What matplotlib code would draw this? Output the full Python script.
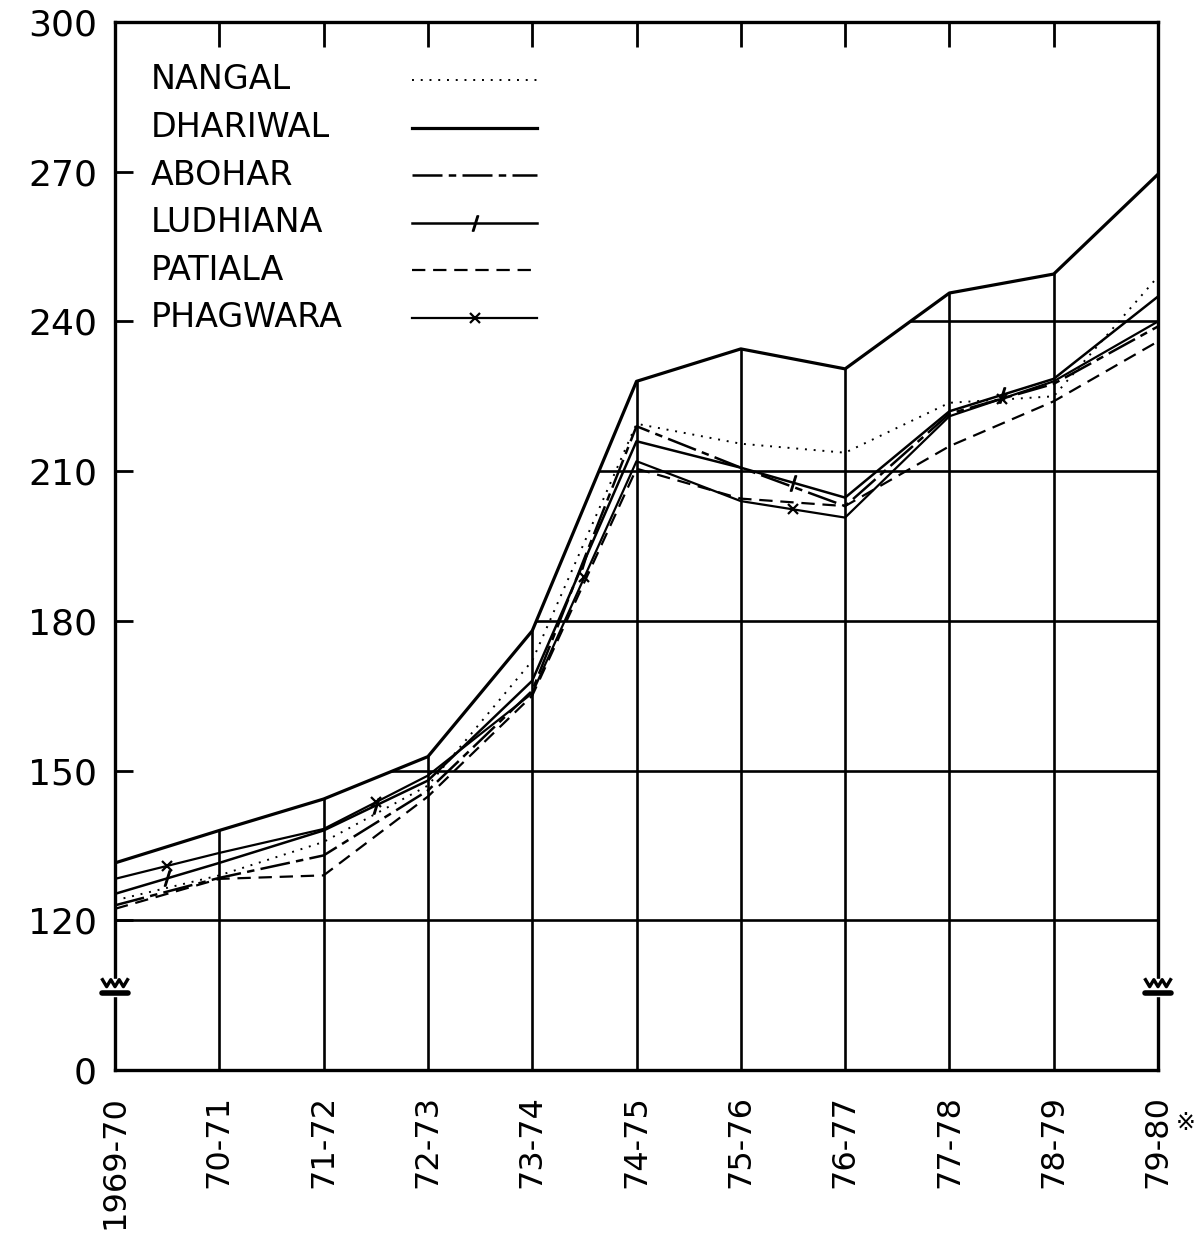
import numpy as np
import matplotlib
matplotlib.use("Agg")
import matplotlib.pyplot as plt
from matplotlib.patches import Polygon

plt.rcParams['font.family'] = ['DejaVu Sans', 'Noto Sans CJK JP']

# data (index numbers, break between 0 and 120)
years = ['1969-70', '70-71', '71-72', '72-73', '73-74', '74-75',
         '75-76', '76-77', '77-78', '78-79', '79-80']
nangal = [124.0, 129.0, 135.7, 147.0, 172.0, 219.5, 215.5, 213.7, 223.7, 225.0, 249.0]
dhariwal = [131.5, 138.0, 144.3, 152.8, 178.0, 228.0, 234.5, 230.5, 245.7, 249.5, 269.5]
abohar = [123.0, 128.5, 133.0, 146.0, 166.0, 219.0, 210.7, 203.0, 221.5, 227.5, 239.0]
ludhiana = [125.3, 131.5, 138.0, 148.0, 168.0, 216.0, 210.7, 204.7, 222.0, 228.5, 245.0]
patiala = [122.3, 128.3, 129.0, 144.8, 165.0, 210.5, 204.5, 203.0, 215.0, 224.0, 236.0]
phagwara = [128.3, 133.5, 138.3, 149.0, 165.5, 212.0, 204.0, 200.7, 221.0, 228.0, 240.0]

ytick_vals = [90, 120, 150, 180, 210, 240, 270, 300]   # 90 sits where the broken axis shows 0
ytick_labels = ['0', '120', '150', '180', '210', '240', '270', '300']

names = ['NANGAL', 'DHARIWAL', 'ABOHAR', 'LUDHIANA', 'PATIALA', 'PHAGWARA']
styles = [
    dict(lw=1.4, ls=(0, (1, 3.5))),
    dict(lw=2.3, ls='-'),
    dict(lw=1.8, ls=(0, (12, 2.5, 3, 2.5))),
    dict(lw=1.8, ls='-'),
    dict(lw=1.6, ls=(0, (6, 3.5))),
    dict(lw=1.6, ls='-'),
]
series = [nangal, dhariwal, abohar, ludhiana, patiala, phagwara]

x = np.arange(len(years))

fig = plt.figure(figsize=(12.03, 12.38), dpi=100)
ax = fig.add_axes([0.0956, 0.1357, 0.867, 0.8465])
ax.set_xlim(0, 10)
ax.set_ylim(90, 300)

# grid only below the Dhariwal line
clip = Polygon(np.column_stack([np.r_[x, 10, 0], np.r_[dhariwal, 90, 90]]),
               closed=True, transform=ax.transData)
vl = ax.vlines(x[1:-1], 90, 300, colors='black', lw=1.9, zorder=1)
hl = ax.hlines(ytick_vals[1:-1], 0, 10, colors='black', lw=1.9, zorder=1)
vl.set_clip_path(clip)
hl.set_clip_path(clip)

for vals, st in zip(series, styles):
    ax.plot(x, vals, color='black', zorder=3, **st)

# small marks in the middle of segments
mx = (x[:-1] + x[1:]) / 2
lud = np.array(ludhiana)
pha = np.array(phagwara)
ax.plot(mx[::2], ((lud[:-1] + lud[1:]) / 2)[::2], ls='none', marker='$/$',
        ms=11, color='black', zorder=4)
ax.plot(mx[::2], ((pha[:-1] + pha[1:]) / 2)[::2], ls='none', marker='x',
        ms=7, mew=1.6, color='black', zorder=4)

# legend: names on the left, line samples on the right
tr = ax.transAxes
row_y = 0.9447 - 0.0454 * np.arange(len(names))
for name, st, yy in zip(names, styles, row_y):
    ax.text(0.034, yy, name, transform=tr, fontsize=24, ha='left', va='center')
    ax.plot([0.285, 0.405], [yy, yy], transform=tr, color='black', **st)
ax.plot([0.345], [row_y[3]], transform=tr, marker='$/$', ms=11, color='black')
ax.plot([0.345], [row_y[5]], transform=tr, marker='x', ms=7, mew=1.6,
        color='black', ls='none')

# axis break symbols
def axis_break(x0, y0):
    zx = x0 + np.linspace(-0.12, 0.12, 7)
    zy = y0 + np.array([1.7, 0.3, 1.7, 0.3, 1.7, 0.3, 1.7])
    ax.fill_between([x0 - 0.12, x0 + 0.12], y0 - 1.6, y0 + 1.8, color='white',
                    zorder=5, clip_on=False)
    ax.plot(zx, zy, color='black', lw=2.4, clip_on=False, zorder=6)
    ax.plot([x0 - 0.12, x0 + 0.12], [y0 - 0.9, y0 - 0.9], color='black', lw=4,
            clip_on=False, zorder=6, solid_capstyle='round')

axis_break(0, 106.4)
axis_break(10, 106.4)

for s in ax.spines.values():
    s.set_linewidth(2.4)
    s.set_zorder(4)

ax.set_xticks(x)
ax.set_xticklabels(years, rotation=90, fontsize=23, va='top')
ax.tick_params(axis='x', bottom=False, top=True, direction='in', length=18,
               width=2, labelbottom=True, pad=18)
ax.set_yticks(ytick_vals)
ax.set_yticklabels(ytick_labels, fontsize=26)
ax.tick_params(axis='y', left=True, right=False, direction='in', length=13,
               width=2, pad=13)

ax.annotate('※', xy=(10, 0), xycoords=('data', 'axes fraction'),
            xytext=(20, -38), textcoords='offset points', fontsize=17,
            ha='center', va='center', annotation_clip=False)

plt.savefig('out.png', dpi=100)
